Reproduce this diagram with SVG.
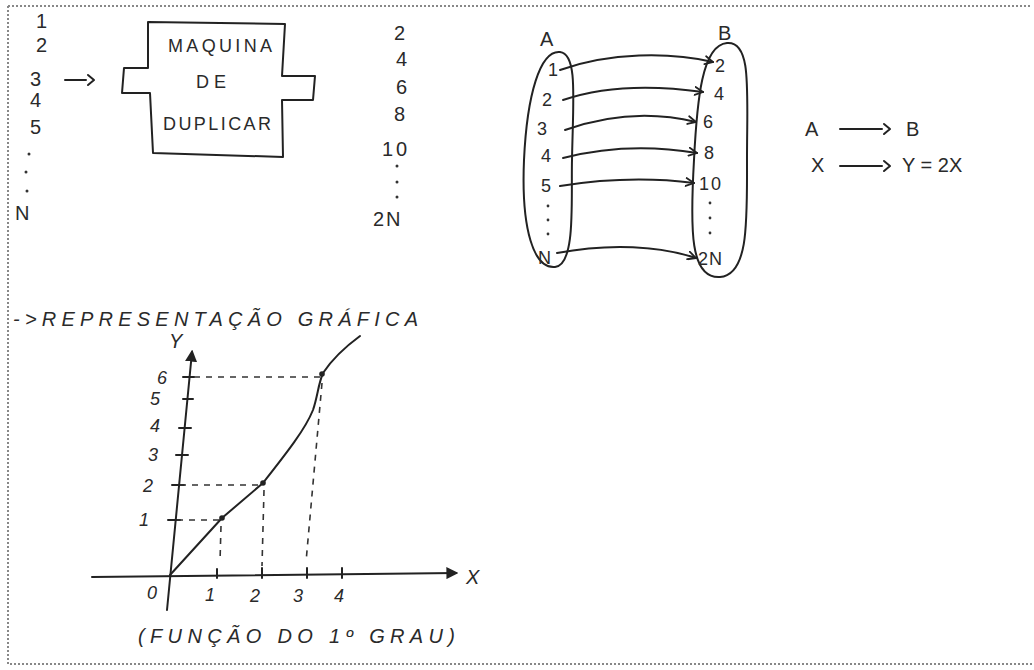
<svg xmlns="http://www.w3.org/2000/svg" width="1034" height="670" viewBox="0 0 1034 670">
<defs>
<style>
.t{font-family:"Liberation Sans","DejaVu Sans",sans-serif;font-size:20px;fill:#2a2a2a;}
.s{font-size:18px;}
.ln{fill:none;stroke:#222;stroke-width:2;stroke-linecap:round;stroke-linejoin:round;}
.dash{fill:none;stroke:#333;stroke-width:1.6;stroke-dasharray:6 6;}
.brd{fill:none;stroke:#888;stroke-width:2;stroke-dasharray:2 2;}
.dot{fill:#333;}
</style>
<marker id="chev" viewBox="0 0 10 10" refX="9" refY="5" markerWidth="10" markerHeight="10" markerUnits="userSpaceOnUse" orient="auto">
<path d="M1,1 L9,5 L1,9" fill="none" stroke="#222" stroke-width="1.8" stroke-linecap="round"/>
</marker>
<marker id="tri" viewBox="0 0 10 10" refX="8" refY="5" markerWidth="12" markerHeight="12" markerUnits="userSpaceOnUse" orient="auto">
<path d="M0,0 L10,5 L0,10 Z" fill="#222"/>
</marker>
</defs>
<rect width="1034" height="670" fill="#fff"/>
<path class="brd" d="M8,6 H1032 M8,6 V664 H1032"/>

<g id="input-list">
<text class="t" x="36" y="28">1</text>
<text class="t" x="36" y="52">2</text>
<text class="t" x="30" y="86">3</text>
<text class="t" x="30" y="107">4</text>
<text class="t" x="30" y="134">5</text>
<circle class="dot" cx="29" cy="154" r="1.5"/>
<circle class="dot" cx="26" cy="172" r="1.5"/>
<circle class="dot" cx="27" cy="191" r="1.5"/>
<text class="t" x="15" y="220">N</text>
</g>

<g id="machine">
<path class="ln" d="M148,22 L285,24 L282,76 L315,76 L313,100 L282,100 L283,157 L153,153 L150,93 L122,93 L124,68 L148,68 Z"/>
<text class="t s" x="168" y="52" textLength="104">MAQUINA</text>
<text class="t s" x="196" y="88" textLength="30">DE</text>
<text class="t s" x="163" y="130" textLength="108">DUPLICAR</text>
</g>

<g id="output-list">
<text class="t" x="394" y="40">2</text>
<text class="t" x="396" y="66">4</text>
<text class="t" x="396" y="94">6</text>
<text class="t" x="394" y="121">8</text>
<text class="t" x="382" y="156" letter-spacing="3">10</text>
<circle class="dot" cx="397" cy="166" r="1.5"/>
<circle class="dot" cx="397" cy="182" r="1.5"/>
<circle class="dot" cx="397" cy="197" r="1.5"/>
<text class="t" x="373" y="226" letter-spacing="2">2N</text>
</g>

<g id="set-A">
<text class="t" x="540" y="46">A</text>
<path class="ln" d="M560,52 C540,50 527,95 524,160 C521,230 534,269 555,267 C576,265 571,200 572,160 C573,100 578,54 560,52 Z"/>
<text class="t s" x="548" y="76">1</text>
<text class="t s" x="542" y="106">2</text>
<text class="t s" x="537" y="135">3</text>
<text class="t s" x="541" y="162">4</text>
<text class="t s" x="541" y="192">5</text>
<circle class="dot" cx="548" cy="206" r="1.4"/>
<circle class="dot" cx="548" cy="220" r="1.4"/>
<circle class="dot" cx="548" cy="234" r="1.4"/>
<text class="t s" x="538" y="264">N</text>
</g>

<g id="set-B">
<text class="t" x="718" y="40">B</text>
<path class="ln" d="M727,43 C702,45 697,100 694,160 C690,230 690,279 720,277 C749,275 747,220 747,160 C747,90 752,41 727,43 Z"/>
<text class="t s" x="715" y="72">2</text>
<text class="t s" x="714" y="100">4</text>
<text class="t s" x="703" y="128">6</text>
<text class="t s" x="704" y="159">8</text>
<text class="t s" x="699" y="190" letter-spacing="2">10</text>
<circle class="dot" cx="710" cy="203" r="1.4"/>
<circle class="dot" cx="710" cy="218" r="1.4"/>
<circle class="dot" cx="710" cy="233" r="1.4"/>
<text class="t s" x="698" y="265" letter-spacing="1">2N</text>
</g>

<g id="rule">
<text class="t" x="805" y="136">A</text>
<path class="ln" d="M840,129 L882,129 M884,124 L890,129 L884,134"/>
<text class="t" x="906" y="136">B</text>
<text class="t" x="811" y="172">X</text>
<path class="ln" d="M840,166 L882,166 M884,161 L890,166 L884,171"/>
<text class="t" x="902" y="172">Y = 2X</text>
</g>

<g id="connectors">
<path class="ln" d="M65,80 L86,80 M88,75 L94,80 L88,85"/>
<path class="ln" marker-end="url(#chev)" d="M560,70 C610,52 670,52 713,62"/>
<path class="ln" marker-end="url(#chev)" d="M563,100 C610,84 660,86 703,92"/>
<path class="ln" marker-end="url(#chev)" d="M565,130 C610,114 655,112 696,122"/>
<path class="ln" marker-end="url(#chev)" d="M563,158 C610,146 655,146 697,153"/>
<path class="ln" marker-end="url(#chev)" d="M560,186 C610,178 655,178 694,183"/>
<path class="ln" marker-end="url(#chev)" d="M557,253 C610,243 660,246 696,258"/>
</g>

<g id="graph">
<text class="t" x="13" y="326" textLength="405" font-style="italic">-&gt;REPRESENTAÇÃO GRÁFICA</text>
<path class="ln" marker-end="url(#tri)" d="M167,610 L192,352"/>
<text class="t" x="169" y="348" font-size="16" font-style="italic">Y</text>
<path class="ln" marker-end="url(#tri)" d="M92,577 L456,573"/>
<text class="t" x="466" y="584" font-style="italic">X</text>
<path class="ln" d="M183,377 H194 M183,399 H193 M179,428 H191 M176,455 H188 M172,485 H184 M168,520 H180 M217,569 V578 M262,568 V578 M307,568 V578 M342,568 V578"/>
<text class="t s" x="157" y="384" font-style="italic">6</text>
<text class="t s" x="150" y="405" font-style="italic">5</text>
<text class="t s" x="150" y="432" font-style="italic">4</text>
<text class="t s" x="148" y="461" font-style="italic">3</text>
<text class="t s" x="143" y="492" font-style="italic">2</text>
<text class="t s" x="139" y="526" font-style="italic">1</text>
<text class="t s" x="147" y="599" font-style="italic">0</text>
<text class="t s" x="205" y="601" font-style="italic">1</text>
<text class="t s" x="250" y="602" font-style="italic">2</text>
<text class="t s" x="293" y="602" font-style="italic">3</text>
<text class="t s" x="334" y="602" font-style="italic">4</text>
<path class="dash" d="M194,377 H322 M322,383 L306,562 M180,485 H263 M264,490 L262,566 M177,520 H221 M221,526 L220,562"/>
<path class="ln" d="M170,575 L222,518 L263,483 C285,455 305,430 313,410 C318,395 318,385 323,373 C333,358 345,347 360,336"/>
<circle cx="222" cy="518" r="2.8" fill="#222"/>
<circle cx="263" cy="483" r="2.8" fill="#222"/>
<circle cx="322" cy="374" r="2.8" fill="#222"/>
<text class="t" x="138" y="643" textLength="317" font-style="italic">(FUNÇÃO DO 1º GRAU)</text>
</g>
</svg>
